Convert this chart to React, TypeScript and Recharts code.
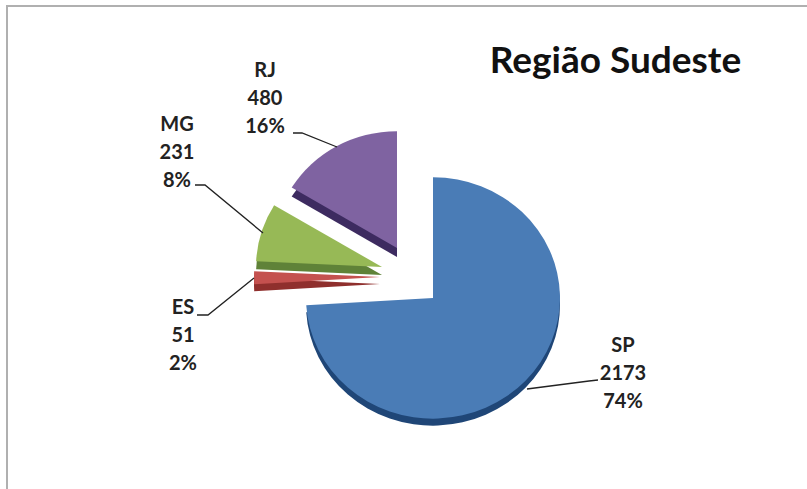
import { PieChart, Pie } from "recharts";

const states = ["SP", "ES", "MG", "RJ"];
const counts = [2173, 51, 231, 480];
const faceColors = ["#4a7cb6", "#c4514f", "#97b956", "#7f63a1"];
const sideColors = ["#1f4677", "#8f2f2d", "#5f8238", "#3d2b60"];

const WIDTH = 807;
const HEIGHT = 489;
// the original pie is tilted a little, so the whole chart is squashed vertically
const TILT = 0.95;

// where each slice is pulled out to, in screen pixels (apex of the wedge)
const apexX = [433, 380, 382, 397];
const apexY = [298, 277, 267, 248];
const radii = [127, 126, 126, 123];
const depth = [7, 7, 8, 9];
const drawOrder = [3, 2, 1, 0];

// label centre x, y of the first line
const labelX = [623, 183, 177, 265];
const labelY = [345, 307, 124, 70];
const LINE_GAP = 28;

const leaders = [
  "598,380 589,381 527,389",
  "197,315 208,315 254,278",
  "195,185 205,185 263,233",
  "293,133 302,133 337,147",
];

const total = counts.reduce((a, b) => a + b, 0);
const FONT = "Lato, 'Open Sans', sans-serif";

function rowsFor(slice: number, colors: string[]) {
  return states.map((name, i) => ({
    name,
    value: counts[i],
    fill: i === slice ? colors[i] : "transparent",
  }));
}

function wedge(slice: number, colors: string[], drop: number, key: string) {
  return (
    <Pie
      key={key}
      data={rowsFor(slice, colors)}
      dataKey="value"
      nameKey="name"
      cx={apexX[slice]}
      cy={(apexY[slice] + drop) / TILT}
      outerRadius={radii[slice]}
      startAngle={90}
      endAngle={-270}
      stroke="none"
      legendType="none"
      isAnimationActive={false}
    />
  );
}

export default function App() {
  return (
    <div
      style={{
        position: "absolute",
        left: 0,
        top: 0,
        width: WIDTH,
        height: HEIGHT,
        background: "#fff",
        overflow: "hidden",
      }}
    >
      <div
        style={{
          position: "absolute",
          left: 6,
          top: 5,
          width: WIDTH,
          height: HEIGHT,
          borderLeft: "2px solid #b0b0b0",
          borderTop: "2px solid #b0b0b0",
        }}
      />
      <div
        style={{
          position: "absolute",
          left: 0,
          top: 0,
          transform: `scaleY(${TILT})`,
          transformOrigin: "top left",
        }}
      >
        <PieChart
          width={WIDTH}
          height={Math.round(HEIGHT / TILT)}
          margin={{ top: 0, right: 0, bottom: 0, left: 0 }}
        >
          {drawOrder.flatMap((slice) => [
            wedge(slice, sideColors, depth[slice], `side-${slice}`),
            wedge(slice, faceColors, 0, `face-${slice}`),
          ])}
        </PieChart>
      </div>
      <svg
        width={WIDTH}
        height={HEIGHT}
        style={{ position: "absolute", left: 0, top: 0, fontFamily: FONT }}
      >
        <text
          x={615.5}
          y={73}
          textAnchor="middle"
          fontSize={37}
          fontWeight={700}
          fill="#111"
        >
          Região Sudeste
        </text>
        {states.map((name, i) => (
          <g key={name}>
            <polyline
              points={leaders[i]}
              fill="none"
              stroke="#222"
              strokeWidth={1.3}
            />
            {[name, String(counts[i]), `${Math.round((counts[i] / total) * 100)}%`].map(
              (line, n) => (
                <text
                  key={n}
                  x={labelX[i]}
                  y={labelY[i] + n * LINE_GAP}
                  dy={7}
                  textAnchor="middle"
                  fontSize={20}
                  fontWeight={700}
                  fill="#222"
                >
                  {line}
                </text>
              )
            )}
          </g>
        ))}
      </svg>
    </div>
  );
}
